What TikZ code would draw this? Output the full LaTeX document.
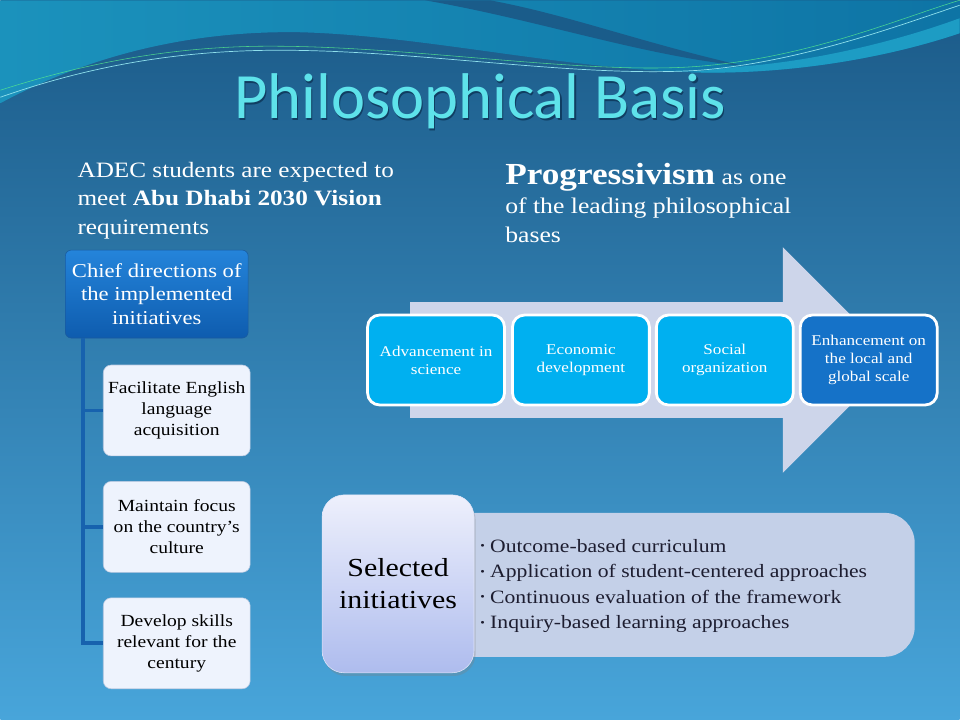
\documentclass[tikz,border=0pt]{standalone}
\usepackage{fontspec}
\setmainfont[FakeStretch=1.15]{Liberation Serif}
\newfontfamily\titlefont{Carlito}
\usetikzlibrary{shadows}

\definecolor{bgtop}{HTML}{1B5A88}
\definecolor{bgbot}{HTML}{48A5DA}
\definecolor{waveleft}{HTML}{1B92BC}
\definecolor{waveright}{HTML}{0E74A5}
\definecolor{wavedark}{HTML}{1A5C8A}
\definecolor{wavelight}{HTML}{1D9CC4}
\definecolor{waveline}{HTML}{8FE0EC}
\definecolor{titlecyan}{HTML}{5EE2EA}
\definecolor{titleshade}{HTML}{0B3152}
\definecolor{chieftop}{HTML}{2484DA}
\definecolor{chiefbot}{HTML}{0E5CAE}
\definecolor{chiefline}{HTML}{1A5B9E}
\definecolor{leaffill}{HTML}{EEF3FD}
\definecolor{leafline}{HTML}{B9C8E0}
\definecolor{trunkblue}{HTML}{1762AE}
\definecolor{arrowfill}{HTML}{CDD5EA}
\definecolor{stagecyan}{HTML}{00B0F0}
\definecolor{stageblue}{HTML}{1572C8}
\definecolor{panelfill}{HTML}{C4D0E8}
\definecolor{seltop}{HTML}{EEF0FC}
\definecolor{selbot}{HTML}{AEBCEE}
\definecolor{listtext}{HTML}{1D1D30}

\newcommand{\itm}{\raisebox{.12em}{\fontsize{8}{8}\selectfont\textbullet}~}

\begin{document}
\begin{tikzpicture}[x=0.25mm,y=-0.25mm,
    intro/.style={text=white,align=left,inner sep=0pt,font=\fontsize{15.6}{20.1}\selectfont},
    heading/.style={font=\titlefont\fontsize{46}{46}\selectfont,anchor=base,inner sep=0pt},
    chief/.style={draw=chiefline,rounded corners=1.5mm,top color=chieftop,bottom color=chiefbot,text=white,align=center,
      minimum width=45.75mm,minimum height=22mm,font=\fontsize{14}{16.7}\selectfont},
    branch/.style={draw=leafline,rounded corners=2mm,fill=leaffill,text=black,align=center,
      minimum width=36.75mm,minimum height=22.75mm,font=\fontsize{12.1}{15}\selectfont},
    stage/.style={draw=white,line width=2pt,rounded corners=3mm,fill=stagecyan,text=white,align=center,
      minimum width=34.25mm,minimum height=22.5mm,font=\fontsize{10.6}{12.8}\selectfont},
    trunk/.style={draw=trunkblue,line width=2.8pt}
  ]
  % background and waves
  \shade[top color=bgtop,bottom color=bgbot] (0,0) rectangle (960,720);
  \shade[left color=waveleft,right color=waveright] (0,0) -- (960,0) -- (960,33)
    .. controls (880,60) and (780,75) .. (690,72) .. controls (560,68) and (420,35) .. (300,32)
    .. controls (180,30) and (80,60) .. (0,103) -- cycle;
  \fill[wavedark] (425,0) .. controls (540,20) and (640,55) .. (745,66)
    .. controls (640,42) and (570,15) .. (490,0) -- cycle;
  \fill[wavelight] (745,66) .. controls (820,60) and (900,40) .. (960,18) -- (960,33)
    .. controls (880,60) and (780,75) .. (690,72) -- cycle;
  \draw[waveline,line width=.5pt] (0,97) .. controls (100,62) and (190,50) .. (280,50)
    .. controls (420,50) and (580,78) .. (700,70) .. controls (800,62) and (900,25) .. (960,5);
  \draw[waveline!60!green,line width=.4pt,opacity=.8] (0,90) .. controls (100,58) and (190,45) .. (280,46)
    .. controls (420,47) and (590,75) .. (700,66) .. controls (810,57) and (900,18) .. (960,0);

  % title
  \node[heading,text=titleshade,opacity=.75] (titleshadow) at (481.5,120) {Philosophical Basis};
  \node[heading,text=titlecyan] (title) at (480,118) {Philosophical Basis};

  % two introductions
  \node[intro,anchor=base west] (adec) at (77,234)
    {ADEC students are expected to\\ meet \textbf{Abu Dhabi 2030 Vision}\\ requirements};
  \node[intro,anchor=base west,font=\fontsize{15.9}{20.6}\selectfont] (prog) at (505,242)
    {{\fontsize{21.8}{20.6}\selectfont\textbf{Progressivism}} as one\\ of the leading philosophical\\ bases};

  % chief directions
  \node[chief] (chief) at (156.5,294) {Chief directions of\\ the implemented\\ initiatives};
  \node[branch] (english) at (176.5,410.5) {Facilitate English\\ language\\ acquisition};
  \node[branch] (culture) at (176.5,527) {Maintain focus\\ on the country's\\ culture};
  \node[branch] (skills) at (176.5,643.5) {Develop skills\\ relevant for the\\ century};
  \coordinate (trunktop) at (83,338);
  \draw[trunk] (trunktop) |- (english.west);
  \draw[trunk] (trunktop) |- (culture.west);
  \draw[trunk] (trunktop) |- (skills.west);

  % progress arrow
  \fill[arrowfill] (410,302) -- (783,302) -- (783,247) -- (896,360) -- (783,473) -- (783,418) -- (410,418) -- cycle;
  \node[stage] (science) at (436,360) {Advancement in\\ science};
  \node[stage] (economy) at (581,360) {Economic\\ development};
  \node[stage] (society) at (725,360) {Social\\ organization};
  \node[stage,fill=stageblue] (scale) at (869,360) {Enhancement on\\ the local and\\ global scale};

  % selected initiatives
  \node[fill=panelfill,rounded corners=7.5mm,minimum width=118.75mm,minimum height=36mm] (panel) at (677.5,585) {};
  \node[anchor=west,align=left,inner sep=0pt,text=listtext,font=\fontsize{13.4}{18.1}\selectfont] (list) at (480,586)
    {\itm Outcome-based curriculum\\ \itm Application of student-centered approaches\\
     \itm Continuous evaluation of the framework\\ \itm Inquiry-based learning approaches};
  \node[draw=seltop!80!selbot,rounded corners=5.5mm,top color=seltop,bottom color=selbot,
    drop shadow={opacity=.3,shadow xshift=.4mm,shadow yshift=-.8mm},
    minimum width=38mm,minimum height=44.5mm,align=center,text=black,font=\fontsize{18.5}{22.8}\selectfont]
    (selected) at (398,584) {Selected\\ initiatives};
\end{tikzpicture}
\end{document}
